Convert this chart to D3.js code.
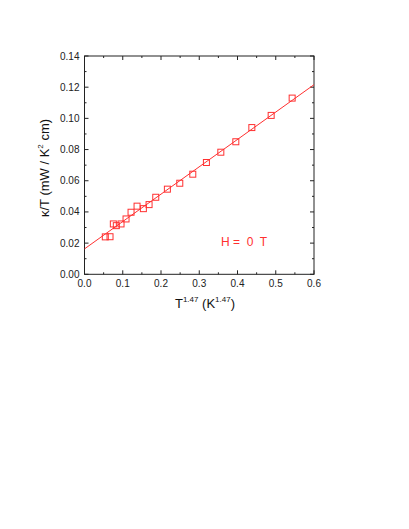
<!DOCTYPE html>
<html><head><meta charset="utf-8">
<script src="https://cdn.jsdelivr.net/npm/d3@7"></script>
<style>body{margin:0;background:#fff;}svg{display:block;}</style>
</head><body>
<script>
const xValues = [0.0544,0.0667,0.0754,0.0832,0.0955,0.1086,0.1217,0.1374,0.1539,0.1688,0.1863,0.2167,0.2491,0.2831,0.3187,0.3564,0.3956,0.4375,0.4880,0.5429];
const yValues = [0.0240,0.0241,0.0323,0.0312,0.0323,0.0355,0.0398,0.0437,0.0421,0.0447,0.0494,0.0546,0.0584,0.0642,0.0717,0.0783,0.0850,0.0941,0.1019,0.1130];
const fitIntercept = 0.0163;
const fitSlope = 0.1755;
const xTicks = [0,0.1,0.2,0.3,0.4,0.5,0.6];
const yTicks = [0,0.02,0.04,0.06,0.08,0.10,0.12,0.14];
const xMinor = [0.05,0.15,0.25,0.35,0.45,0.55];
const yMinor = [0.01,0.03,0.05,0.07,0.09,0.11,0.13];

const W=409,H=529;
const svg=d3.select("body").append("svg").attr("width",W).attr("height",H);
const L=84.5,R=314,T=56,B=274.3;
const x=d3.scaleLinear().domain([0,0.6]).range([L,R]);
const y=d3.scaleLinear().domain([0,0.14]).range([B,T]);
const red="#ff3030";
const font="'Liberation Sans', Arial, sans-serif";

// frame
svg.append("rect").attr("x",L).attr("y",T).attr("width",R-L).attr("height",B-T)
  .attr("fill","none").attr("stroke","#222").attr("stroke-width",1);

const g=svg.append("g");
function tick(x1,y1,x2,y2){g.append("line").attr("x1",x1).attr("y1",y1).attr("x2",x2).attr("y2",y2).attr("stroke","#222").attr("stroke-width",1);}
xTicks.forEach(v=>{tick(x(v),B,x(v),B-4);tick(x(v),T,x(v),T+4);});
xMinor.forEach(v=>{tick(x(v),B,x(v),B-2);tick(x(v),T,x(v),T+2);});
yTicks.forEach(v=>{tick(L,y(v),L+4,y(v));tick(R,y(v),R-4,y(v));});
yMinor.forEach(v=>{tick(L,y(v),L+2,y(v));tick(R,y(v),R-2,y(v));});

svg.selectAll(".xl").data(xTicks).enter().append("text")
  .attr("x",d=>x(d)).attr("y",B+13).attr("text-anchor","middle")
  .attr("font-family",font).attr("font-size",10).attr("fill","#222")
  .text(d=>d.toFixed(1));
svg.selectAll(".yl").data(yTicks).enter().append("text")
  .attr("x",L-5).attr("y",d=>y(d)+3.5).attr("text-anchor","end")
  .attr("font-family",font).attr("font-size",10).attr("fill","#222")
  .text(d=>d.toFixed(2));

const xt=svg.append("text").attr("x",205).attr("y",308).attr("text-anchor","middle")
  .attr("font-family",font).attr("font-size",13).attr("fill","#111");
xt.append("tspan").text("T");
xt.append("tspan").attr("font-size",8).attr("dy",-6).text("1.47");
xt.append("tspan").attr("dy",6).text(" (K");
xt.append("tspan").attr("font-size",8).attr("dy",-6).text("1.47");
xt.append("tspan").attr("dy",6).text(")");

const yt=svg.append("text").attr("transform","translate(49,168) rotate(-90)").attr("text-anchor","middle")
  .attr("font-family",font).attr("font-size",13).attr("fill","#111");
yt.append("tspan").text("\u03BA/T (mW / K");
yt.append("tspan").attr("font-size",8).attr("dy",-6).text("2");
yt.append("tspan").attr("dy",6).text(" cm)");

const lineX=[0,0.6];
svg.append("path").datum(lineX)
  .attr("d",d3.line().x(d=>x(d)).y(d=>y(fitIntercept+fitSlope*d)))
  .attr("stroke",red).attr("stroke-width",1).attr("fill","none");

const s=6;
svg.selectAll(".pt").data(xValues.map((v,i)=>[v,yValues[i]])).enter().append("rect")
  .attr("x",d=>x(d[0])-s/2).attr("y",d=>y(d[1])-s/2).attr("width",s).attr("height",s)
  .attr("fill","none").attr("stroke",red).attr("stroke-width",1);

svg.append("text").attr("x",221).attr("y",246).attr("font-family",font).attr("font-size",12)
  .attr("fill",red).style("white-space","pre").text("H =  0  T");
</script>
</body></html>
